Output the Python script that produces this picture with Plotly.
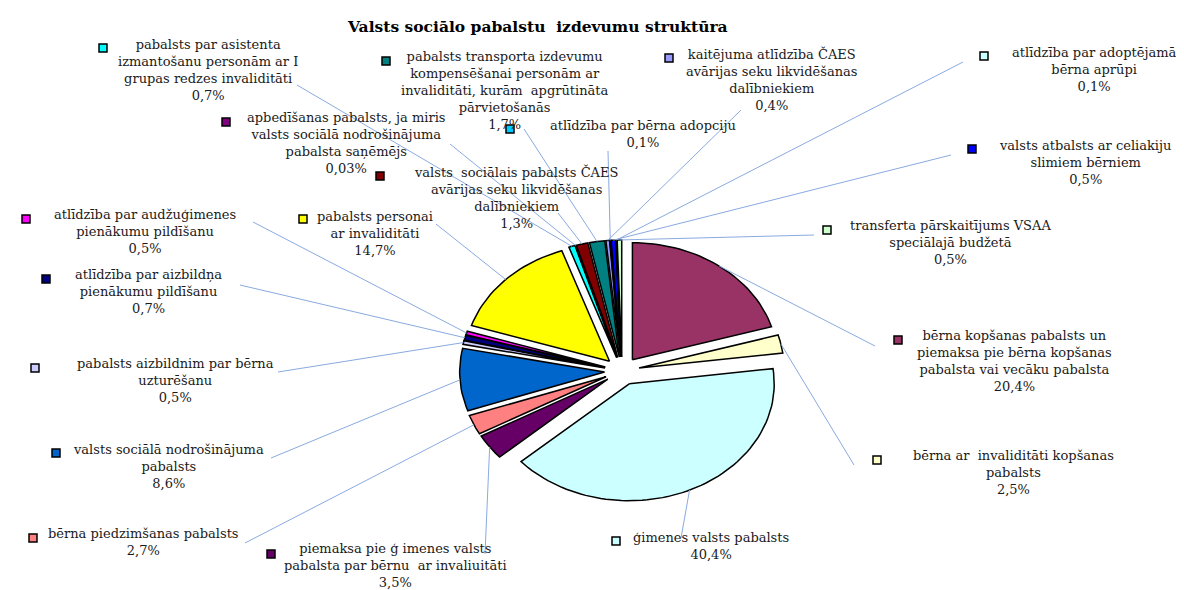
import numpy as np
import plotly.graph_objects as go

# --- data (clockwise from 12 o'clock) ---
labels = [
    "bērna kopšanas pabalsts un<br>piemaksa pie bērna kopšanas<br>pabalsta vai vecāku pabalsta",
    "bērna ar  invaliditāti kopšanas<br>pabalsts",
    "ģimenes valsts pabalsts",
    "piemaksa pie ģ imenes valsts<br>pabalsta par bērnu  ar invaliuitāti",
    "bērna piedzimšanas pabalsts",
    "valsts sociālā nodrošinājuma<br>pabalsts",
    "pabalsts aizbildnim par bērna<br>uzturēšanu",
    "atlīdzība par aizbildņa<br>pienākumu pildīšanu",
    "atlīdzība par audžuģimenes<br>pienākumu pildīšanu",
    "pabalsts personai<br>ar invaliditāti",
    "pabalsts par asistenta<br>izmantošanu personām ar I<br>grupas redzes invaliditāti",
    "apbedīšanas pabalsts, ja miris<br>valsts sociālā nodrošinājuma<br>pabalsta saņēmējs",
    "valsts  sociālais pabalsts ČAES<br>avārijas seku likvidēšanas<br>dalībniekiem",
    "pabalsts transporta izdevumu<br>kompensēšanai personām ar<br>invaliditāti, kurām  apgrūtināta<br>pārvietošanās",
    "kaitējuma atlīdzība ČAES<br>avārijas seku likvidēšanas<br>dalībniekiem",
    "atlīdzība par bērna adopciju",
    "valsts atbalsts ar celiakiju<br>slimiem bērniem",
    "atlīdzība par adoptējamā<br>bērna aprūpi",
    "transferta pārskaitījums VSAA<br>speciālajā budžetā",
]
shares = [20.4, 2.5, 40.4, 3.5, 2.7, 8.6, 0.5, 0.7, 0.5, 14.7,
          0.7, 0.03, 1.3, 1.7, 0.4, 0.1, 0.5, 0.1, 0.5]
pct_text = ["20,4%", "2,5%", "40,4%", "3,5%", "2,7%", "8,6%", "0,5%", "0,7%", "0,5%", "14,7%",
            "0,7%", "0,03%", "1,3%", "1,7%", "0,4%", "0,1%", "0,5%", "0,1%", "0,5%"]

colours = ["#993366", "#FFFFCC", "#CCFFFF", "#660066", "#FF8080", "#0066CC", "#CCCCFF",
           "#000080", "#FF00FF", "#FFFF00", "#00FFFF", "#800080", "#800000", "#008080",
           "#9999FF", "#00CCFF", "#0000FF", "#CCFFFF", "#CCFFCC"]

# --- layout of the labels: text centre / first line y, key square, leader start ---
label_pos = [(1006, 333), (1005, 453), (703, 535), (387, 546), (135, 531), (160, 447),
             (167, 361), (140, 272), (137, 212), (367, 214), (200, 42), (338, 115),
             (508, 169), (497, 54), (763, 51), (635, 123), (1077, 143), (1086, 50), (942, 223)]
key_pos = [(890, 332), (869, 452), (608, 533), (263, 546), (25, 530), (48, 445),
           (27, 360), (38, 271), (18, 211), (295, 211), (95, 40), (218, 114),
           (372, 168), (378, 53), (661, 50), (502, 121), (964, 141), (976, 48), (819, 222)]
lead_pos = [(867, 338), (846, 457), (673, 530), (477, 546), (237, 535), (263, 450),
            (270, 364), (232, 277), (245, 214), (428, 216), (289, 77), (442, 136),
            (550, 205), (516, 121), (733, 102), (600, 143), (943, 147), (955, 54), (806, 227)]

# pie geometry (pixels)
cx, cy, rx, ry = 614, 363, 145, 117
explode = 0.12
font = "DejaVu Serif"

fig = go.Figure()

vals = np.array(shares, dtype=float)
ends = np.cumsum(vals) / vals.sum() * 360
starts = ends - vals / vals.sum() * 360

slice_tips = []
for i, (a0, a1) in enumerate(zip(starts, ends)):
    mid = np.radians((a0 + a1) / 2)
    ox = cx + explode * rx * np.sin(mid)
    oy = cy - explode * ry * np.cos(mid)
    n = max(3, int((a1 - a0) / 2))
    t = np.radians(np.linspace(a0, a1, n))
    xs = np.concatenate([[ox], ox + rx * np.sin(t), [ox]])
    ys = np.concatenate([[oy], oy - ry * np.cos(t), [oy]])
    fig.add_trace(go.Scatter(
        x=xs, y=ys, mode="lines", fill="toself", fillcolor=colours[i],
        line=dict(color="black", width=1.5), hoverinfo="skip", showlegend=False))
    slice_tips.append((ox + rx * np.sin(mid), oy - ry * np.cos(mid)))

# leader lines
for (lx, ly), (tx, ty) in zip(lead_pos, slice_tips):
    fig.add_trace(go.Scatter(
        x=[lx, tx], y=[ly, ty], mode="lines",
        line=dict(color="#8AAAE0", width=1), hoverinfo="skip", showlegend=False))

# legend keys next to labels
fig.add_trace(go.Scatter(
    x=[p[0] for p in key_pos], y=[p[1] for p in key_pos], mode="markers",
    marker=dict(symbol="square", size=8, color=colours, line=dict(color="black", width=1.5)),
    hoverinfo="skip", showlegend=False))

for i in range(len(labels)):
    fig.add_annotation(
        x=label_pos[i][0], y=label_pos[i][1] - 15, xref="x", yref="y",
        text=labels[i] + "<br>" + pct_text[i], showarrow=False,
        xanchor="center", yanchor="top", align="center",
        font=dict(family=font, size=13, color="#1a1a1a"))

fig.add_annotation(
    x=529, y=18, xref="x", yref="y", text="<b>Valsts sociālo pabalstu  izdevumu struktūra</b>",
    showarrow=False, xanchor="center", yanchor="middle",
    font=dict(family=font, size=15.5, color="black"))

fig.update_xaxes(range=[0, 1184], visible=False)
fig.update_yaxes(range=[590, 0], visible=False)
fig.update_layout(
    width=1184, height=590, margin=dict(l=0, r=0, t=0, b=0),
    plot_bgcolor="white", paper_bgcolor="white")

fig.write_html("out.html")
